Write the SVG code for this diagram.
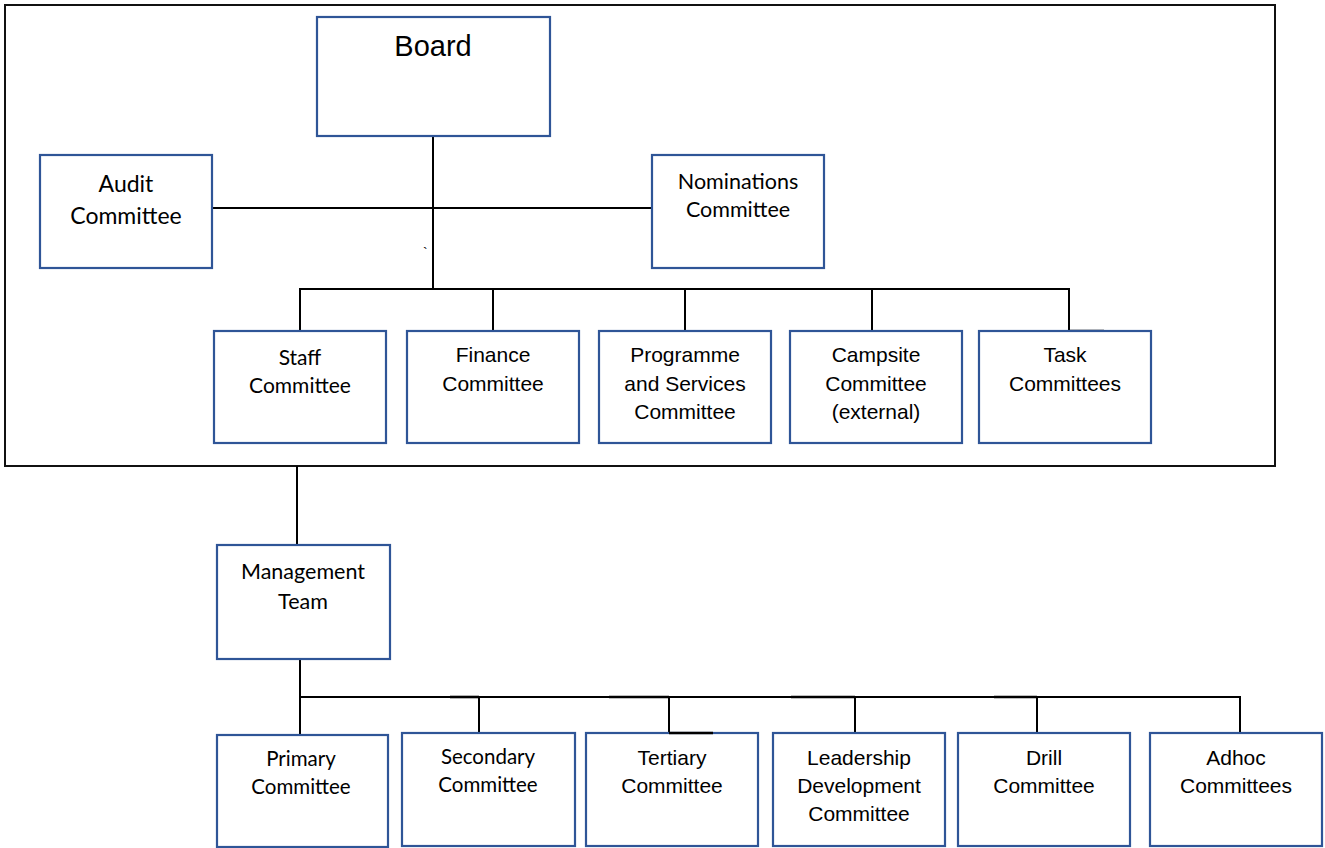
<svg xmlns="http://www.w3.org/2000/svg" width="1325" height="848" viewBox="0 0 1325 848">
<style>
.box{fill:#fff;stroke:#2F5597;stroke-width:2.2}
.frame{fill:none;stroke:#111;stroke-width:2}
.ln{stroke:#000;stroke-width:2;fill:none}
.stub{stroke:#000;stroke-width:2.6;fill:none}
.a{font-family:"Liberation Sans",Arial,sans-serif;font-size:21px;fill:#000;text-anchor:middle}
.c{font-family:Lato,"Open Sans",sans-serif;fill:#000;text-anchor:middle}
</style>
<rect width="1325" height="848" fill="#fff"/>
<rect id="frame" class="frame" x="5" y="5" width="1270" height="461"/>
<g id="connectors">
<line class="ln" x1="433" y1="136" x2="433" y2="289"/>
<line class="ln" x1="212" y1="208" x2="652" y2="208"/>
<polyline class="ln" points="300,331 300,289 1069,289 1069,331"/>
<line class="ln" x1="493" y1="289" x2="493" y2="331"/>
<line class="ln" x1="685" y1="289" x2="685" y2="331"/>
<line class="ln" x1="872" y1="289" x2="872" y2="331"/>
<line class="stub" x1="1069" y1="331" x2="1104" y2="331"/>
<line class="ln" x1="297" y1="466" x2="297" y2="545"/>
<line class="ln" x1="300" y1="659" x2="300" y2="735"/>
<polyline class="ln" points="300,697 1240,697 1240,733"/>
<line class="ln" x1="479" y1="697" x2="479" y2="733"/>
<line class="ln" x1="669" y1="697" x2="669" y2="733"/>
<line class="ln" x1="855" y1="697" x2="855" y2="733"/>
<line class="ln" x1="1037" y1="697" x2="1037" y2="733"/>
<line class="stub" x1="450" y1="697" x2="479" y2="697"/>
<line class="stub" x1="609" y1="697" x2="669" y2="697"/>
<line class="stub" x1="791" y1="697" x2="855" y2="697"/>
<line class="stub" x1="994" y1="697" x2="1037" y2="697"/>
</g>
<g id="board"><rect class="box" x="317" y="17" width="233" height="119"/><text x="433" y="56" font-family="'Liberation Sans',Arial,sans-serif" font-size="29" text-anchor="middle">Board</text></g>
<g id="audit"><rect class="box" x="40" y="155" width="172" height="113"/><text class="c" font-size="23" x="126" y="192">Audit</text><text class="c" font-size="23" x="126" y="224">Committee</text></g>
<g id="nominations"><rect class="box" x="652" y="155" width="172" height="113"/><text class="c" font-size="21.5" x="738" y="189">Nominations</text><text class="c" font-size="21.5" x="738" y="217">Committee</text></g>
<text x="423" y="258" font-family="'Liberation Sans',Arial,sans-serif" font-size="14">`</text>
<g id="staff"><rect class="box" x="214" y="331" width="172" height="112"/><text class="c" font-size="21" x="300" y="365">Staff</text><text class="c" font-size="21" x="300" y="393">Committee</text></g>
<g id="finance"><rect class="box" x="407" y="331" width="172" height="112"/><text class="a" x="493" y="362">Finance</text><text class="a" x="493" y="391">Committee</text></g>
<g id="programme"><rect class="box" x="599" y="331" width="172" height="112"/><text class="a" x="685" y="362">Programme</text><text class="a" x="685" y="390.5">and Services</text><text class="a" x="685" y="419">Committee</text></g>
<g id="campsite"><rect class="box" x="790" y="331" width="172" height="112"/><text class="a" x="876" y="362">Campsite</text><text class="a" x="876" y="390.5">Committee</text><text class="a" x="876" y="419">(external)</text></g>
<g id="task"><rect class="box" x="979" y="331" width="172" height="112"/><text class="a" x="1065" y="362">Task</text><text class="a" x="1065" y="391">Committees</text></g>
<g id="management"><rect class="box" x="217" y="545" width="173" height="114"/><text class="c" font-size="21.5" x="303" y="579">Management</text><text class="c" font-size="21.5" x="303" y="609">Team</text></g>
<g id="primary"><rect class="box" x="217" y="735" width="171" height="112"/><text class="c" font-size="20.5" x="301" y="766">Primary</text><text class="c" font-size="20.5" x="301" y="794">Committee</text></g>
<g id="secondary"><rect class="box" x="402" y="733" width="173" height="113"/><text class="c" font-size="20.5" x="488" y="764">Secondary</text><text class="c" font-size="20.5" x="488" y="792">Committee</text></g>
<g id="tertiary"><rect class="box" x="586" y="733" width="172" height="113"/><text class="a" x="672" y="765">Tertiary</text><text class="a" x="672" y="793">Committee</text></g>
<line class="stub" x1="669" y1="733" x2="713" y2="733"/>
<g id="leadership"><rect class="box" x="773" y="733" width="172" height="113"/><text class="a" x="859" y="765">Leadership</text><text class="a" x="859" y="793">Development</text><text class="a" x="859" y="821">Committee</text></g>
<g id="drill"><rect class="box" x="958" y="733" width="172" height="113"/><text class="a" x="1044" y="765">Drill</text><text class="a" x="1044" y="793">Committee</text></g>
<g id="adhoc"><rect class="box" x="1150" y="733" width="172" height="113"/><text class="a" x="1236" y="765">Adhoc</text><text class="a" x="1236" y="793">Committees</text></g>
</svg>
